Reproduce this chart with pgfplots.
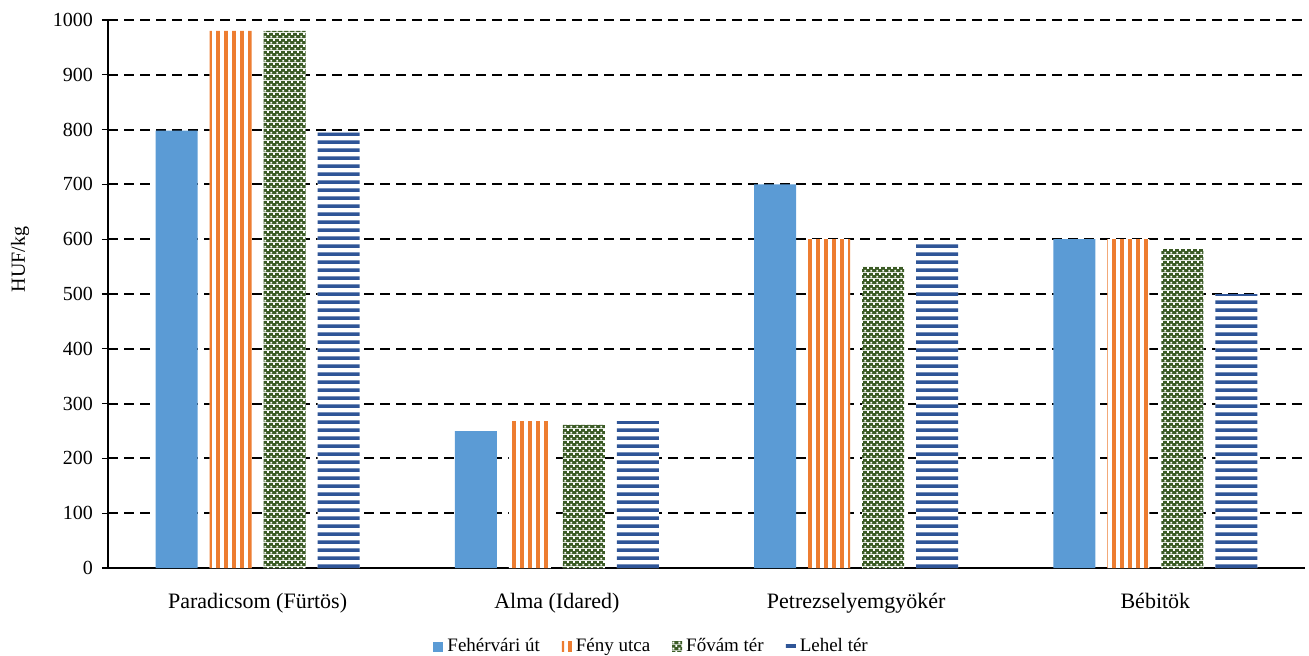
\documentclass[border=0pt]{standalone}
\usepackage{fontspec}
\setmainfont{Liberation Serif}
\usepackage{pgfplots}
\pgfplotsset{compat=1.18}
\usetikzlibrary{patterns}

\definecolor{cBlue}{HTML}{5B9BD5}
\definecolor{cOrange}{HTML}{ED7D31}
\definecolor{cGreen}{HTML}{3B5B25}
\definecolor{cNavy}{HTML}{2F5597}

% stripe and checker tiles
\pgfdeclarepatternformonly{vstripes}{\pgfpointorigin}{\pgfqpoint{4pt}{4pt}}{\pgfqpoint{4pt}{4pt}}{%
  \pgfpathrectangle{\pgfqpoint{0pt}{-0.5pt}}{\pgfqpoint{2.2pt}{5pt}}%
  \pgfusepath{fill}}
\pgfdeclarepatternformonly{hstripes}{\pgfpointorigin}{\pgfqpoint{4pt}{4pt}}{\pgfqpoint{4pt}{4pt}}{%
  \pgfpathrectangle{\pgfqpoint{-0.5pt}{0pt}}{\pgfqpoint{5pt}{2pt}}%
  \pgfusepath{fill}}
\pgfdeclarepatterninherentlycolored{greenchecker}{\pgfpointorigin}{\pgfqpoint{3pt}{3pt}}{\pgfqpoint{3pt}{3pt}}{%
  \pgfsetfillcolor{cGreen}%
  \pgfpathrectangle{\pgfpointorigin}{\pgfqpoint{3pt}{3pt}}%
  \pgfusepath{fill}%
  \pgfsetfillcolor{white}%
  \pgfpathrectangle{\pgfqpoint{0.25pt}{0.25pt}}{\pgfqpoint{1.05pt}{1.05pt}}%
  \pgfpathrectangle{\pgfqpoint{1.75pt}{1.75pt}}{\pgfqpoint{1.05pt}{1.05pt}}%
  \pgfusepath{fill}}

% values: Fehérvári út, Fény utca, Fővám tér, Lehel tér
\pgfplotstableread{
x feh feny fovam lehel
0 798 980 980 795
1 250 268 261 268
2 700 600 550 598
3 600 600 582 500
}\prices

\begin{document}
\begin{tikzpicture}
\begin{axis}[
  scale only axis,
  width=598.5pt, height=274pt,
  ybar, bar width=21pt,
  xmin=-0.5, xmax=3.5,
  ymin=0, ymax=1000,
  ytick={0,100,...,1000},
  xtick={0,1,2,3},
  xticklabels={Paradicsom (Fürtös), Alma (Idared), Petrezselyemgyökér, Bébitök},
  major x tick style={draw=none},
  extra x ticks={-0.5,0.5,1.5,2.5,3.5},
  extra x tick labels={},
  extra x tick style={grid=none, major tick length=4pt, tick style={black, line width=0.6pt, draw=black}},
  axis x line*=bottom, axis y line*=left,
  axis line style={black, line width=0.6pt},
  tick align=outside,
  major tick length=3pt,
  ytick style={black, line width=0.6pt},
  ymajorgrids,
  grid style={black, line width=1pt, dash pattern=on 5pt off 3pt},
  /pgf/number format/assume math mode=true,
  /pgf/number format/1000 sep={},
  yticklabel style={font=\fontsize{10pt}{12pt}\selectfont, xshift=-1pt},
  xticklabel style={font=\fontsize{11pt}{13pt}\selectfont, yshift=-6pt},
  ylabel={HUF/kg},
  ylabel style={font=\fontsize{10pt}{12pt}\selectfont, at={(axis description cs:0,0.563)}, anchor=center, yshift=44pt},
  legend columns=4,
  legend style={draw=none, at={(0.455,0)}, anchor=north, yshift=-31pt,
    font=\fontsize{9.5pt}{11pt}\selectfont,
    /tikz/every even column/.append style={column sep=9pt}},
  legend image code/.code={\fill[#1] (0pt,-2.5pt) rectangle (5pt,2.5pt);},
]
\addplot[draw=none, fill=cBlue, bar shift=-40.5pt] table[x=x, y=feh] {\prices};
\addplot[draw=none, fill=white, postaction={pattern=vstripes, pattern color=cOrange}, bar shift=-13.5pt] table[x=x, y=feny] {\prices};
\addplot[draw=none, fill=white, postaction={pattern=greenchecker}, bar shift=13.5pt] table[x=x, y=fovam] {\prices};
\addplot[draw=none, fill=white, postaction={pattern=hstripes, pattern color=cNavy}, bar shift=40.5pt] table[x=x, y=lehel] {\prices};
\legend{Fehérvári út, Fény utca, Fővám tér, Lehel tér}
\end{axis}
\pgfresetboundingbox
\path[use as bounding box] (-54pt,-43.5pt) rectangle (600.5pt,284pt);
\end{tikzpicture}
\end{document}
